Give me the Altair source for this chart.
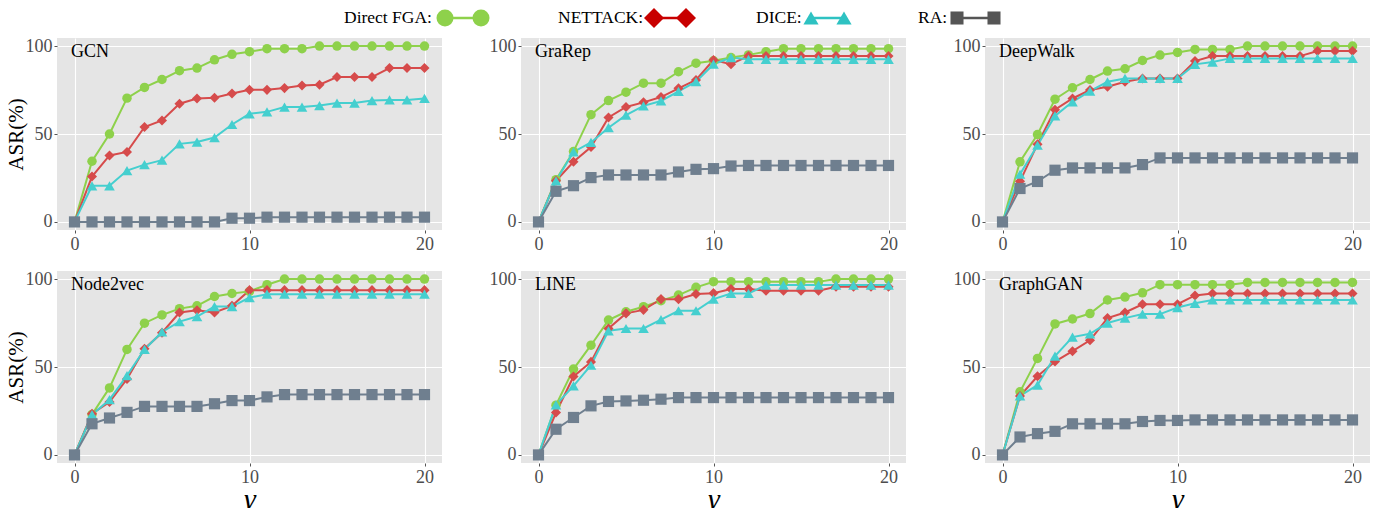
import altair as alt
import pandas as pd

gamma = list(range(21))
models = ["GCN", "GraRep", "DeepWalk", "Node2vec", "LINE", "GraphGAN"]
methods = ["Direct FGA", "NETTACK", "DICE", "RA"]

gcn_fga = [0, 34.5, 50, 70.4, 76.5, 81, 86, 87.5, 92.2, 95.3, 96.8, 98.5, 98.5, 98.5, 100, 100, 100, 100, 100, 100, 100]
gcn_nettack = [0, 25.8, 37.8, 39.8, 54, 57.7, 67.2, 70.2, 70.6, 73, 75.1, 75.1, 76.1, 77.6, 78, 82.4, 82.4, 82.4, 87.5, 87.5, 87.5]
gcn_dice = [0, 20.5, 20.5, 29.2, 32.6, 35.1, 44.4, 45.4, 48, 55.4, 61.5, 62.6, 65.3, 65.3, 66.2, 67.6, 67.6, 69, 69.4, 69.4, 70.2]
gcn_ra = [0, 0, 0, 0, 0, 0, 0, 0, 0, 2.1, 2.1, 2.7, 2.7, 2.7, 2.7, 2.7, 2.7, 2.7, 2.7, 2.7, 2.7]

grarep_fga = [0, 24, 40, 61, 69, 73.8, 78.9, 78.9, 85.4, 90.3, 91.6, 93.5, 95, 96.8, 98.5, 98.5, 98.5, 98.5, 98.5, 98.5, 98.5]
grarep_nettack = [0, 23.4, 34.2, 42.6, 59.4, 65.4, 68, 71, 76, 80.7, 92.1, 89.7, 94.4, 94.4, 94.4, 94.4, 94.4, 94.4, 94.4, 94.4, 94.4]
grarep_dice = [0, 23.4, 39.8, 45.2, 53.6, 60.7, 66, 68.8, 74.2, 79.8, 89.7, 93.5, 92.5, 92.5, 92.5, 92.5, 92.5, 92.5, 92.5, 92.5, 92.5]
grarep_ra = [0, 17.4, 20.6, 25.2, 26.7, 26.7, 26.7, 26.7, 28.4, 29.9, 30.3, 31.8, 32.1, 32.1, 32.1, 32.1, 32.1, 32.1, 32.1, 32.1, 32.1]

deepwalk_fga = [0, 34.2, 49.7, 69.8, 76.3, 81, 85.8, 87.1, 91.8, 94.9, 96.4, 98.1, 98.1, 98.1, 100, 100, 100, 100, 100, 100, 100]
deepwalk_nettack = [0, 23.1, 44.2, 63.8, 70.2, 75, 76.9, 79.7, 81.6, 81.6, 81.6, 91.5, 94.3, 94.3, 94.3, 94.3, 94.3, 94.3, 97.2, 97.2, 97.2]
deepwalk_dice = [0, 27.1, 43.6, 60.3, 68.3, 74.4, 79.7, 81.6, 81.6, 81.6, 81.6, 89.6, 90.9, 93, 93, 93, 93, 93, 93, 93, 93]
deepwalk_ra = [0, 19, 23, 29.4, 30.7, 30.7, 30.7, 30.7, 32.6, 36.4, 36.4, 36.4, 36.4, 36.4, 36.4, 36.4, 36.4, 36.4, 36.4, 36.4, 36.4]

node2vec_fga = [0, 23, 38.1, 60, 74.9, 79.6, 83.2, 84.8, 90.1, 91.8, 93, 96.8, 100, 100, 100, 100, 100, 100, 100, 100, 100]
node2vec_nettack = [0, 23.4, 30.1, 43.2, 60.4, 69.5, 81, 82.3, 81, 84.8, 93.7, 93.7, 93.7, 93.7, 93.7, 93.7, 93.7, 93.7, 93.7, 93.7, 93.7]
node2vec_dice = [0, 22.9, 31.4, 45.1, 60, 69.9, 75.8, 78.7, 84.4, 84.4, 89.5, 91.4, 91.4, 91.4, 91.4, 91.4, 91.4, 91.4, 91.4, 91.4, 91.4]
node2vec_ra = [0, 17.7, 21, 24.2, 27.6, 27.6, 27.6, 27.6, 29.1, 30.9, 30.9, 33, 34.3, 34.3, 34.3, 34.3, 34.3, 34.3, 34.3, 34.3, 34.3]

line_fga = [0, 28.3, 48.8, 62.4, 76.7, 81.4, 84.3, 87.7, 90.9, 95.3, 98.5, 98.5, 98.5, 98.5, 98.5, 98.5, 98.5, 100, 100, 100, 100]
line_nettack = [0, 24.1, 44.6, 52.9, 71.9, 80.5, 82.5, 88.6, 88.6, 91.5, 92, 94.3, 94.3, 93.4, 93.4, 93.4, 93.4, 95.6, 95.6, 95.6, 95.6]
line_dice = [0, 28.5, 39.3, 51, 70.6, 71.9, 71.9, 76.9, 82, 82, 88.6, 91.8, 91.8, 96.6, 96.6, 96.6, 96.6, 96.6, 96.6, 96.6, 96.6]
line_ra = [0, 14.6, 21.3, 27.9, 30.4, 30.7, 31.1, 31.7, 32.6, 32.6, 32.6, 32.6, 32.6, 32.6, 32.6, 32.6, 32.6, 32.6, 32.6, 32.6, 32.6]

graphgan_fga = [0, 35.9, 54.9, 74.5, 77.3, 80.4, 88.1, 89.8, 92.2, 96.8, 96.8, 96.8, 96.8, 96.8, 98.1, 98.1, 98.1, 98.1, 98.1, 98.1, 98.1]
graphgan_nettack = [0, 33.5, 44.7, 53.1, 59, 65.2, 77.8, 81, 85.7, 85.7, 85.7, 90.7, 91.8, 91.8, 91.8, 91.8, 91.8, 91.8, 91.8, 91.8, 91.8]
graphgan_dice = [0, 33.5, 39.7, 56.2, 67, 68.9, 75, 77.8, 80.1, 80.1, 83.8, 86.2, 88.1, 88.1, 88.1, 88.1, 88.1, 88.1, 88.1, 88.1, 88.1]
graphgan_ra = [0, 10.2, 12.1, 13.4, 17.7, 17.7, 17.7, 17.7, 19, 19.6, 19.6, 19.9, 19.9, 19.9, 19.9, 19.9, 19.9, 19.9, 19.9, 19.9, 19.9]

series = {
    "GCN": [gcn_fga, gcn_nettack, gcn_dice, gcn_ra],
    "GraRep": [grarep_fga, grarep_nettack, grarep_dice, grarep_ra],
    "DeepWalk": [deepwalk_fga, deepwalk_nettack, deepwalk_dice, deepwalk_ra],
    "Node2vec": [node2vec_fga, node2vec_nettack, node2vec_dice, node2vec_ra],
    "LINE": [line_fga, line_nettack, line_dice, line_ra],
    "GraphGAN": [graphgan_fga, graphgan_nettack, graphgan_dice, graphgan_ra],
}

colors = ["#8ED14B", "#D64B4B", "#45CFCF", "#6F7F8F"]
legend_colors = ["#8ED14B", "#C80000", "#2EC2C2", "#555555"]
shapes = ["circle", "diamond", "triangle-up", "square"]
sizes = [90, 125, 90, 72]

rows = []
for m in models:
    for k, meth in enumerate(methods):
        for g, v in zip(gamma, series[m][k]):
            rows.append({"model": m, "method": meth, "order": k, "gamma": g, "asr": v})
df = pd.DataFrame(rows)

SERIF = "Liberation Serif"
W, H = 385, 192

color_scale = alt.Scale(domain=methods, range=colors)
shape_scale = alt.Scale(domain=methods, range=shapes)
size_scale = alt.Scale(domain=methods, range=sizes)

AXIS_COMMON = dict(
    grid=True, gridColor="white", gridWidth=1.1, domain=False,
    ticks=True, tickColor="#555555", tickSize=3,
    labelFont=SERIF, labelFontSize=18, labelColor="#4D4D4D", labelPadding=2,
)


def legend_layers():
    items = [
        ("Direct FGA:", -177, -76, -40),
        ("NETTACK:", 37, 133, 165),
        ("DICE:", 235, 290, 323),
        ("RA:", 397, 436, 473),
    ]
    lsizes = [290, 400, 230, 170]
    one = alt.Data(values=[{"k": 1}])
    layers = []
    for k, (label, tx, m1, m2) in enumerate(items):
        layers.append(
            alt.Chart(one).mark_text(align="left", baseline="middle", font=SERIF,
                                     fontSize=17.5, color="black")
            .encode(x=alt.value(tx), y=alt.value(-20), text=alt.value(label))
        )
        layers.append(
            alt.Chart(one).mark_rule(color=legend_colors[k], strokeWidth=2.5)
            .encode(x=alt.value(m1), x2=alt.value(m2), y=alt.value(-20))
        )
        for mx in (m1, m2):
            layers.append(
                alt.Chart(one).mark_point(shape=shapes[k], filled=True, opacity=1,
                                          color=legend_colors[k], size=lsizes[k])
                .encode(x=alt.value(mx), y=alt.value(-20))
            )
    return layers


def panel(model, idx):
    col = idx % 3
    row = idx // 3
    x_axis = alt.Axis(values=[0, 10, 20], title="γ" if row == 1 else "",
                      titleFontStyle="italic", titleFontSize=30, titleFont=SERIF,
                      titleFontWeight="normal", titlePadding=-2, titleColor="black",
                      **AXIS_COMMON)
    y_axis = alt.Axis(values=[0, 50, 100], title="ASR(%)" if col == 0 else "",
                      titleFontSize=21, titleFont=SERIF, titleFontWeight="normal",
                      titlePadding=-1, titleColor="black", **AXIS_COMMON)
    d = df[df.model == model]
    x = alt.X("gamma:Q", scale=alt.Scale(domain=[-1, 21], nice=False, zero=False), axis=x_axis)
    y = alt.Y("asr:Q", scale=alt.Scale(domain=[-4.6, 104.6], nice=False, zero=False), axis=y_axis)
    base = alt.Chart(d).encode(x=x, y=y)
    lines = base.mark_line(strokeWidth=2).encode(
        color=alt.Color("method:N", scale=color_scale, legend=None),
        detail="method:N",
        order="gamma:Q",
    )
    pts = base.mark_point(filled=True, opacity=1).encode(
        color=alt.Color("method:N", scale=color_scale, legend=None),
        shape=alt.Shape("method:N", scale=shape_scale, legend=None),
        size=alt.Size("method:N", scale=size_scale, legend=None),
        order="order:Q",
    )
    title = alt.Chart(alt.Data(values=[{"k": 1}])).mark_text(
        align="left", baseline="middle", font=SERIF, fontSize=18, color="black"
    ).encode(x=alt.value(14), y=alt.value(14), text=alt.value(model))
    layers = [lines, pts, title]
    if idx == 1:
        layers += legend_layers()
    return alt.layer(*layers).properties(width=W, height=H)


panels = [panel(m, i) for i, m in enumerate(models)]

chart = alt.concat(*panels, columns=3, spacing={"row": 41, "column": 79}, bounds="flush").properties(
    padding={"left": -3, "top": 0, "right": 0, "bottom": 0},
    background="white",
).configure_view(
    fill="#E5E5E5", strokeWidth=0
)

chart.save("out.html", embed_options={"renderer": "svg", "actions": False})
